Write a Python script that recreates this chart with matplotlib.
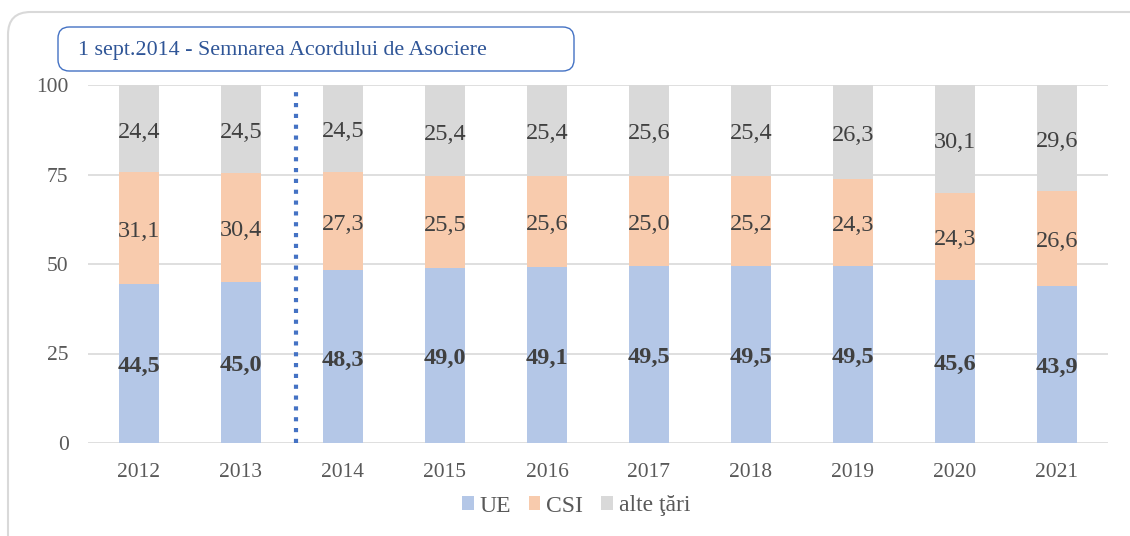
import matplotlib
matplotlib.use("Agg")
import matplotlib.pyplot as plt
from matplotlib.patches import FancyBboxPatch
import numpy as np

years = ["2012", "2013", "2014", "2015", "2016", "2017", "2018", "2019", "2020", "2021"]
ue = [44.5, 45.0, 48.3, 49.0, 49.1, 49.5, 49.5, 49.5, 45.6, 43.9]
csi = [31.1, 30.4, 27.3, 25.5, 25.6, 25.0, 25.2, 24.3, 24.3, 26.6]
alte = [24.4, 24.5, 24.5, 25.4, 25.4, 25.6, 25.4, 26.3, 30.1, 29.6]
series_names = ["UE", "CSI", "alte ţări"]
annotation = "1 sept.2014 - Semnarea Acordului de Asociere"

colors = ["#B4C7E7", "#F8CBAD", "#D9D9D9"]
txt = "#404040"
plt.rcParams['font.family'] = ['Liberation Serif', 'DejaVu Serif']

W, H = 1130, 536
fig = plt.figure(figsize=(W/100, H/100), dpi=100)
ax = fig.add_axes([88/W, 1-443/H, (1108-88)/W, (443-85)/H])

x = np.arange(len(years))
ue_a, csi_a, alte_a = np.array(ue), np.array(csi), np.array(alte)
bw = 0.4
ax.bar(x, ue_a, bw, color=colors[0], label=series_names[0], zorder=2)
ax.bar(x, csi_a, bw, bottom=ue_a, color=colors[1], label=series_names[1], zorder=2)
ax.bar(x, alte_a, bw, bottom=ue_a+csi_a, color=colors[2], label=series_names[2], zorder=2)

def fmt(v):
    return f"{v:.1f}".replace(".", ",")

def lab(xx, yy, s, bold=False):
    ax.annotate(s, (xx, yy), xytext=(0, -2.5), textcoords='offset points', ha='center', va='center',
                fontsize=17.5, fontweight='bold' if bold else 'normal', color=txt, zorder=3)

for i in range(len(years)):
    lab(x[i], ue_a[i]/2, fmt(ue_a[i]), bold=True)
    lab(x[i], ue_a[i]+csi_a[i]/2, fmt(csi_a[i]))
    lab(x[i], ue_a[i]+csi_a[i]+alte_a[i]/2, fmt(alte_a[i]))

ax.set_xlim(-0.5, 9.5)
ax.set_ylim(0, 100)
ax.set_yticks([0, 25, 50, 75, 100])
ax.set_xticks(x)
ax.set_xticklabels(years)
ax.yaxis.grid(True, color="#D9D9D9", linewidth=1.2, zorder=0)
ax.set_axisbelow(True)
for s in ax.spines.values():
    s.set_visible(False)
ax.tick_params(axis='both', length=0, labelsize=15.5, colors="#595959")
ax.tick_params(axis='x', pad=14.5)
ax.tick_params(axis='y', pad=14)

ax.plot([1.54, 1.54], [0, 99.5], linestyle=(0, (1, 1.6)), color="#4472C4", linewidth=3, zorder=4)

leg = ax.legend(loc='center', bbox_to_anchor=((576-88)/(1108-88), 1-(506-85)/(443-85)), ncol=3, frameon=False,
                fontsize=17, handlelength=0.5, handleheight=0.5, handletextpad=0.25, columnspacing=0.75,
                labelcolor="#595959")

# outer rounded border
outer = FancyBboxPatch((8/W, -0.2), 1.2, 1-12/H+0.2, boxstyle="round,pad=0,rounding_size=0.02",
                       transform=fig.transFigure, fill=False, edgecolor="#D9D9D9", linewidth=1.5,
                       mutation_aspect=W/H)
fig.patches.append(outer)

box = FancyBboxPatch((58/W, 1-71/H), (574-58)/W, (71-27)/H, boxstyle="round,pad=0,rounding_size=0.01",
                     transform=fig.transFigure, fill=True, facecolor="white", edgecolor="#4472C4",
                     linewidth=1.0, mutation_aspect=W/H)
fig.patches.append(box)
fig.text(78/W, 1-50/H, annotation, ha='left', va='center', fontsize=15.8, color="#2F5597")

fig.savefig("out.png", dpi=100)
